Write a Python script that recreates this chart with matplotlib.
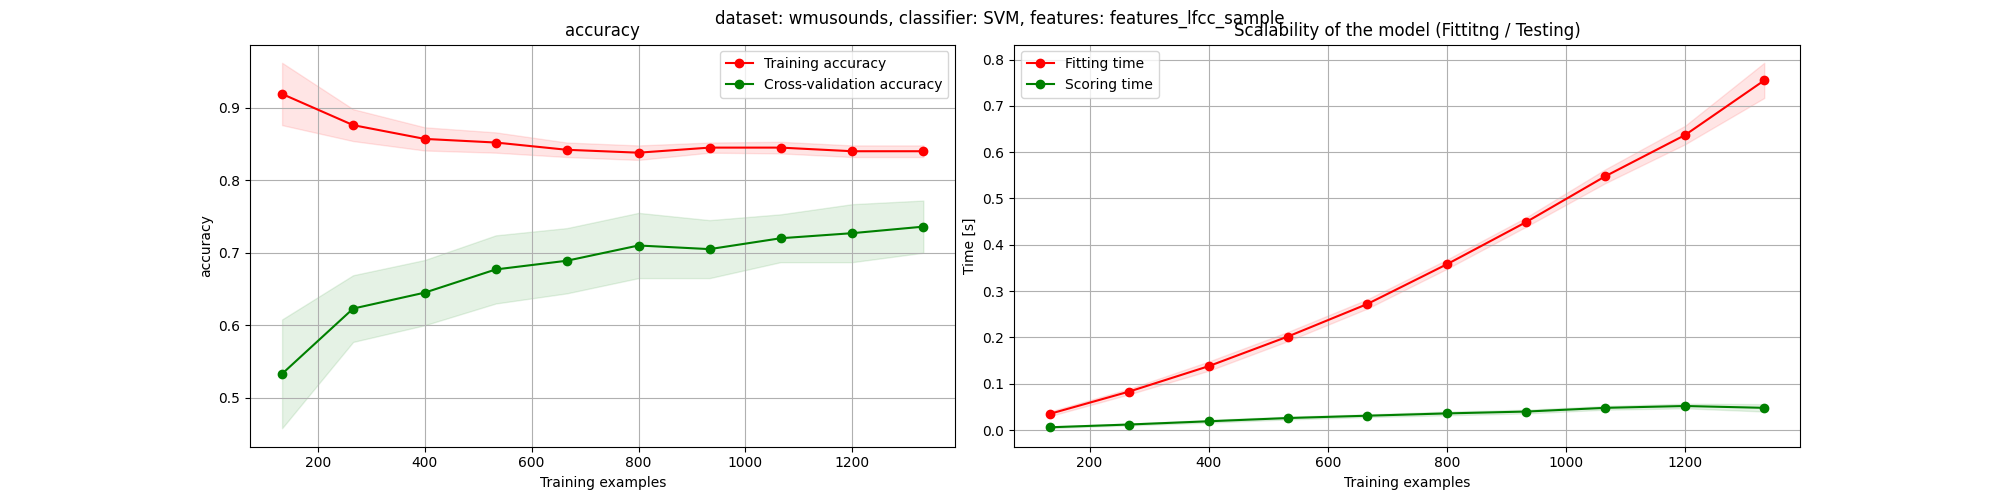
import numpy as np
import matplotlib.pyplot as plt

train_sizes = [133, 266, 400, 533, 666, 800, 933, 1066, 1200, 1333]

train_mean = [0.919, 0.876, 0.857, 0.852, 0.842, 0.838, 0.845, 0.845, 0.840, 0.840]
train_std = [0.043, 0.022, 0.016, 0.014, 0.010, 0.010, 0.007, 0.008, 0.008, 0.008]
cv_mean = [0.533, 0.623, 0.645, 0.677, 0.689, 0.710, 0.705, 0.720, 0.727, 0.736]
cv_std = [0.075, 0.046, 0.045, 0.047, 0.045, 0.045, 0.040, 0.033, 0.040, 0.036]

fit_mean = [0.035, 0.083, 0.138, 0.202, 0.272, 0.358, 0.449, 0.548, 0.637, 0.755]
fit_std = [0.005, 0.006, 0.010, 0.010, 0.010, 0.010, 0.010, 0.015, 0.020, 0.038]
score_mean = [0.006, 0.012, 0.019, 0.026, 0.031, 0.036, 0.040, 0.048, 0.052, 0.048]
score_std = [0.002, 0.002, 0.003, 0.003, 0.003, 0.004, 0.004, 0.004, 0.005, 0.008]


def band(ax, x, m, s, color):
    m, s = np.array(m), np.array(s)
    ax.fill_between(x, m - s, m + s, alpha=0.1, color=color)


fig = plt.figure(figsize=(20, 5), dpi=100)
ax1 = fig.add_axes([0.125, 0.107, 0.3527, 0.804])
ax2 = fig.add_axes([0.507, 0.107, 0.393, 0.804])
fig.suptitle("dataset: wmusounds, classifier: SVM, features: features_lfcc_sample")

band(ax1, train_sizes, train_mean, train_std, "r")
band(ax1, train_sizes, cv_mean, cv_std, "g")
ax1.plot(train_sizes, train_mean, "o-", color="r", label="Training accuracy")
ax1.plot(train_sizes, cv_mean, "o-", color="g", label="Cross-validation accuracy")
ax1.set_title("accuracy")
ax1.set_xlabel("Training examples")
ax1.set_ylabel("accuracy")
ax1.grid(True)
ax1.legend(loc="upper right")

band(ax2, train_sizes, fit_mean, fit_std, "r")
band(ax2, train_sizes, score_mean, score_std, "g")
ax2.plot(train_sizes, fit_mean, "o-", color="r", label="Fitting time")
ax2.plot(train_sizes, score_mean, "o-", color="g", label="Scoring time")
ax2.set_title("Scalability of the model (Fittitng / Testing)")
ax2.set_xlabel("Training examples")
ax2.set_ylabel("Time [s]")
ax2.grid(True)
ax2.legend(loc="upper left")

fig.savefig("out.png")
